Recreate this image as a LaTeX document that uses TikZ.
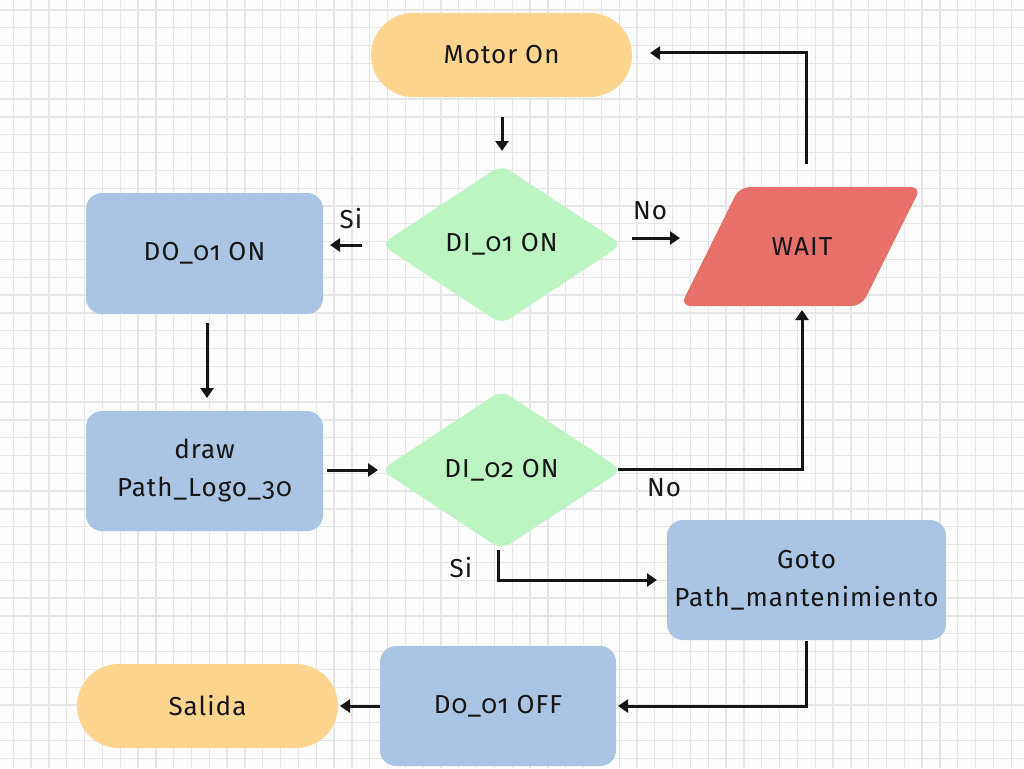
\documentclass[tikz,border=0pt]{standalone}
\usepackage{fontspec}
\setmainfont[Numbers=OldStyle,LetterSpace=4]{Fira Sans}
\usetikzlibrary{shapes.geometric,arrows.meta,calc}
\definecolor{bgc}{HTML}{FDFDFD}
\definecolor{gridc}{HTML}{E6E6E6}
\definecolor{yel}{HTML}{FDD58F}
\definecolor{grn}{HTML}{BCF4C2}
\definecolor{blu}{HTML}{AAC4E3}
\definecolor{redc}{HTML}{E8706A}
\definecolor{ink}{HTML}{151515}
\tikzset{
  gridline/.style={draw=gridc,line width=1.3pt},
  lbl/.style={font=\fontsize{26}{30}\selectfont,text=ink,inner sep=0pt},
  boxbase/.style={inner sep=0pt,outer sep=0pt,font=\fontsize{26}{38}\selectfont,text=ink,align=center},
  terminal/.style={boxbase,rectangle,fill=yel,minimum width=261pt,minimum height=84pt,rounded corners=42pt},
  procbox/.style={boxbase,rectangle,fill=blu,minimum height=120pt,rounded corners=16pt},
  decision/.style={boxbase,diamond,fill=grn,minimum width=241pt,minimum height=159pt,rounded corners=10pt},
  waitnode/.style={boxbase,rectangle,minimum width=181pt,minimum height=119pt},
  arr/.style={draw=ink,line width=3pt,-{Triangle[length=10pt,width=13pt]}},
}
\begin{document}
\begin{tikzpicture}[x=1pt,y=-1pt]
\useasboundingbox (0,0) rectangle (1024,768);
\fill[bgc] (0,0) rectangle (1024,768);
\foreach \i in {0,...,56} \draw[gridline] ({13.3+17.82*\i},0) -- ++(0,768);
\foreach \j in {0,...,42} \draw[gridline] (0,{10+17.82*\j}) -- ++(1024,0);

\node[terminal] (motor) at (501.5,55) {Motor On};
\node[decision] (d1) at (501.5,244.5) {DI\_01 ON};
\node[procbox,minimum width=237pt,minimum height=121pt] (do1) at (204.5,253.5) {DO\_01 ON};
\node[waitnode] (wait) at (801,246.5) {};
\fill[redc,rounded corners=10pt] ($(wait)+(-61.5,-59.5)$) -- ($(wait)+(120,-59.5)$) -- ($(wait)+(60.5,59.5)$) -- ($(wait)+(-120.5,59.5)$) -- cycle;
\node[boxbase] (waittext) at ($(wait)+(1,0)$) {WAIT};
\node[procbox,minimum width=237pt] (draw) at (204.5,471) {draw\\Path\_Logo\_30};
\node[decision] (d2) at (501.5,470) {DI\_02 ON};
\node[procbox,minimum width=279pt] (goto) at (806.5,580) {Goto\\Path\_mantenimiento};
\node[procbox,minimum width=236pt] (off) at (498,706) {D0\_01 OFF};
\node[terminal] (salida) at (207.5,706) {Salida};

\node[lbl] (si1) at (351,219) {Si};
\node[lbl] (no1) at (650,211) {No};
\node[lbl] (no2) at (664,488) {No};
\node[lbl] (si2) at (461,568) {Si};

\draw[arr] ($(motor)+(0.5,62)$) -- ($(d1)+(0.5,-93.5)$);
\draw[arr] ($(d1)+(-139.5,0.5)$) -- ($(do1)+(125.5,-8.5)$);
\draw[arr] ($(d1)+(130.5,-6.5)$) -- ($(wait)+(-121,-8.5)$);
\draw[arr] ($(wait)+(5,-82.5)$) |- ($(motor)+(148.5,-2)$);
\draw[arr] ($(do1)+(2.5,69.5)$) -- ($(draw)+(2.5,-73)$);
\draw[arr] ($(draw)+(122.5,-1)$) -- ($(d2)+(-123.5,0)$);
\draw[arr] ($(d2)+(116.5,-1)$) -| ($(wait)+(1,63.5)$);
\draw[arr] ($(d2)+(-3.5,80)$) |- ($(goto)+(-149.5,0)$);
\draw[arr] ($(goto)+(-0.5,61)$) |- ($(off)+(120,0)$);
\draw[arr] ($(off)+(-118,0)$) -- ($(salida)+(132.5,0)$);
\end{tikzpicture}
\end{document}
